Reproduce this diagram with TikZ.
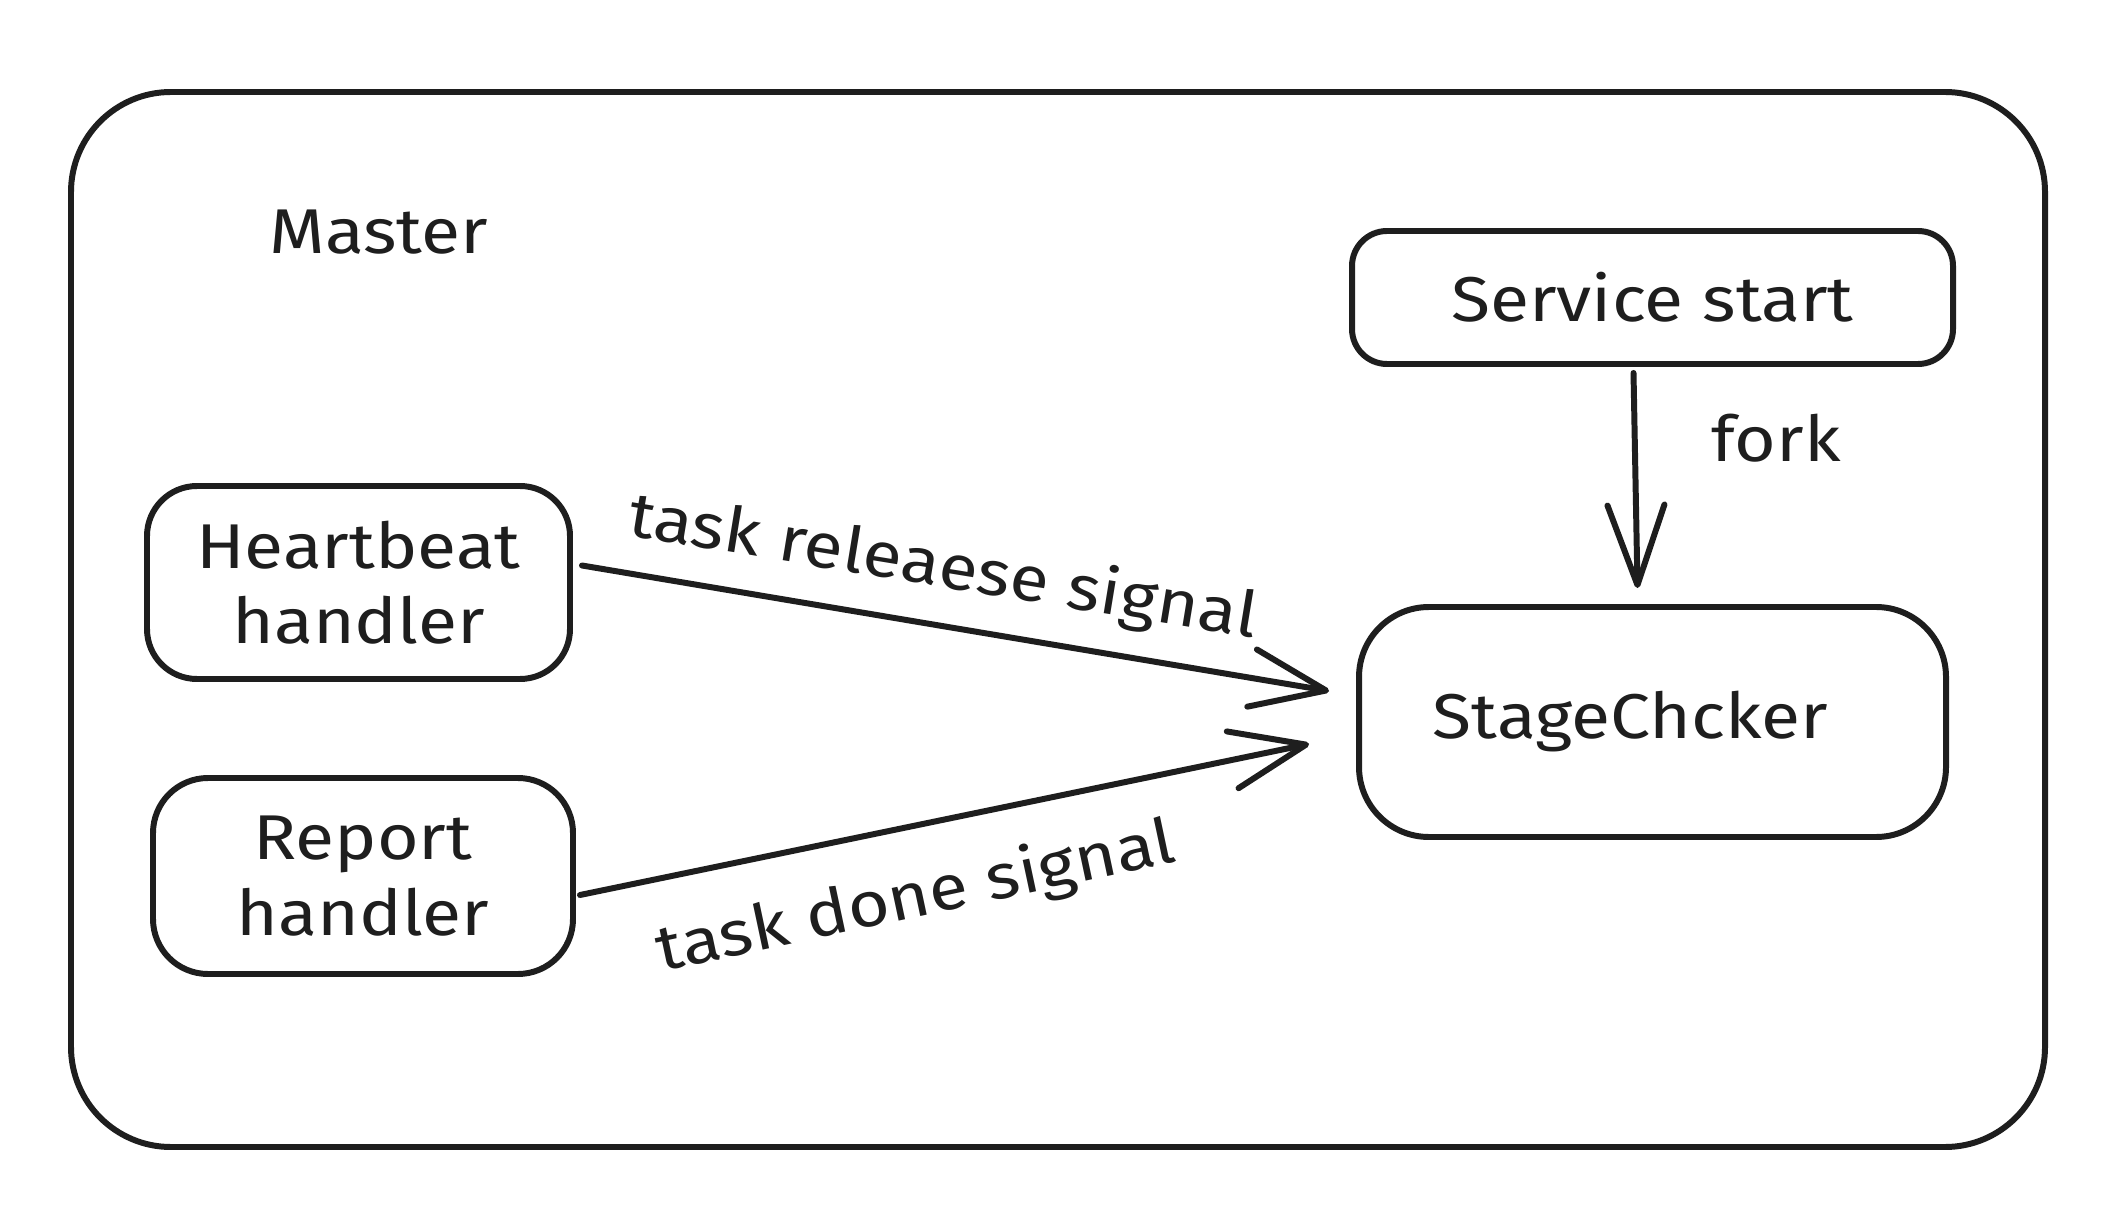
\documentclass[tikz,border=0pt]{standalone}
\usepackage{fontspec}
\setmainfont{Fira Sans}[FakeStretch=1.13]
\usetikzlibrary{arrows.meta}
\definecolor{ink}{HTML}{1E1E1E}
\begin{document}
\begin{tikzpicture}[x=1cm,y=1cm,
  every node/.style={text=ink, font=\fontsize{18}{21.5}\selectfont},
  box/.style={draw=ink, line width=1.7pt, inner sep=0pt, align=center},
  txt/.style={inner sep=0pt},
  conn/.style={draw=ink, line width=1.7pt, line cap=round, line join=round,
    -{Straight Barb[length=0.75cm,width=0.58cm,line cap=round,line join=round]}}
]
\useasboundingbox (0,0) rectangle (21.28,-12.16);
\fill[white] (0,0) rectangle (21.28,-12.16);

\node[box, rounded corners=1cm, minimum width=19.74cm, minimum height=10.55cm] (outer) at (10.58,-6.195) {};
\node[txt] (master) at (3.79,-2.32) {Master};

\node[box, rounded corners=0.35cm, minimum width=6.01cm, minimum height=1.33cm] (service) at (16.525,-2.975) {Service start};
\node[box, rounded corners=0.7cm, minimum width=5.87cm, minimum height=2.30cm] (stage) at (16.525,-7.22) {\hspace*{-0.44cm}StageChcker};
\node[box, rounded corners=0.5cm, minimum width=4.23cm, minimum height=1.93cm] (heart) at (3.585,-5.825) {Heartbeat\\handler};
\node[box, rounded corners=0.55cm, minimum width=4.20cm, minimum height=1.96cm] (report) at (3.63,-8.76) {Report\\handler};

\draw[conn] ([shift={(0.09,0.17)}]heart.east) -- ([shift={(-0.27,0.31)}]stage.west);
\draw[conn] ([shift={(0.04,-0.19)}]report.east) -- ([shift={(-0.47,-0.22)}]stage.west);
\draw[conn, -{Straight Barb[length=0.8cm,width=0.57cm,line cap=round,line join=round]}] ([shift={(-0.19,-0.06)}]service.south) -- ([shift={(-0.15,0.16)}]stage.north);

\node[txt, rotate=-9.3] (lrel) at (9.43,-5.69) {task releaese signal};
\node[txt, rotate=12] (ldone) at (9.16,-8.99) {task done signal};
\node[txt] (lfork) at (17.76,-4.38) {fork};
\end{tikzpicture}
\end{document}
